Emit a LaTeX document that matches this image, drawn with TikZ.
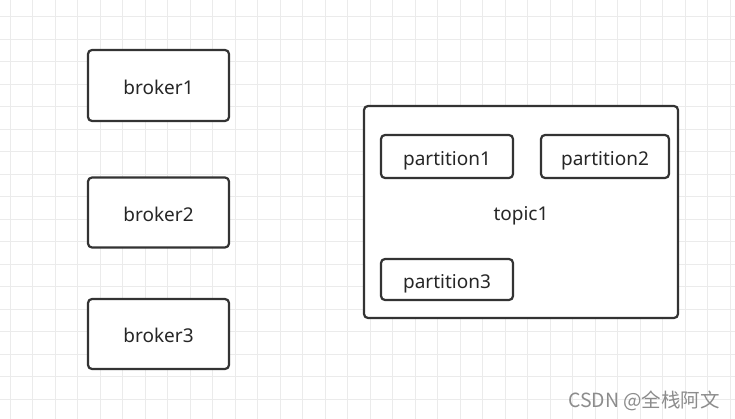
\documentclass[tikz,border=0pt]{standalone}
\usepackage{fontspec}
\setmainfont{Noto Sans}
\newfontfamily\cjk{Noto Sans CJK SC}
\usetikzlibrary{positioning}

\tikzset{
	gridline/.style = {draw = black!8, line width = 1pt},
	box/.style = {draw = black!80, line width = 2.2pt, rounded corners = 4pt, fill = white, text = black!85, font = \fontsize{19}{21}\selectfont, inner sep = 0pt, text height = 17.5pt, text depth = 0pt}
}

\begin{document}
\begin{tikzpicture}[x = 1pt, y = -1pt]
			\useasboundingbox (0,0) rectangle (735,419);
			\fill[white] (0,0) rectangle (735,419);
			
			% background grid
			\foreach \gx in {0,...,32} \draw[gridline] (10+22.5*\gx,0) -- (10+22.5*\gx,419);
			\foreach \gy in {0,...,18} \draw[gridline] (0,16.7+22.5*\gy) -- (735,16.7+22.5*\gy);
			
			% brokers
			\node[box, minimum width = 141, minimum height = 71] (broker1) at (158.5,85.5) {broker1};
			\node[box, minimum width = 141, minimum height = 70] (broker2) at (158.5,212.5) {broker2};
			\node[box, minimum width = 141, minimum height = 70] (broker3) at (158.5,334) {broker3};
			
			% topic with its partitions
			\node[box, minimum width = 314, minimum height = 212] (topic1) at (521,212) {topic1};
			\node[box, minimum width = 132, minimum height = 43] (partition1) at (447,156.5) {partition1};
			\node[box, minimum width = 128, minimum height = 43] (partition2) at (605,156.5) {partition2};
			\node[box, minimum width = 132, minimum height = 41] (partition3) at (447,279.5) {partition3};
			
			\node[text = black!45, font = \cjk\fontsize{19.5}{21}\selectfont] (mark) at (644,401) {CSDN @全栈阿文};
		\end{tikzpicture}
\end{document}
